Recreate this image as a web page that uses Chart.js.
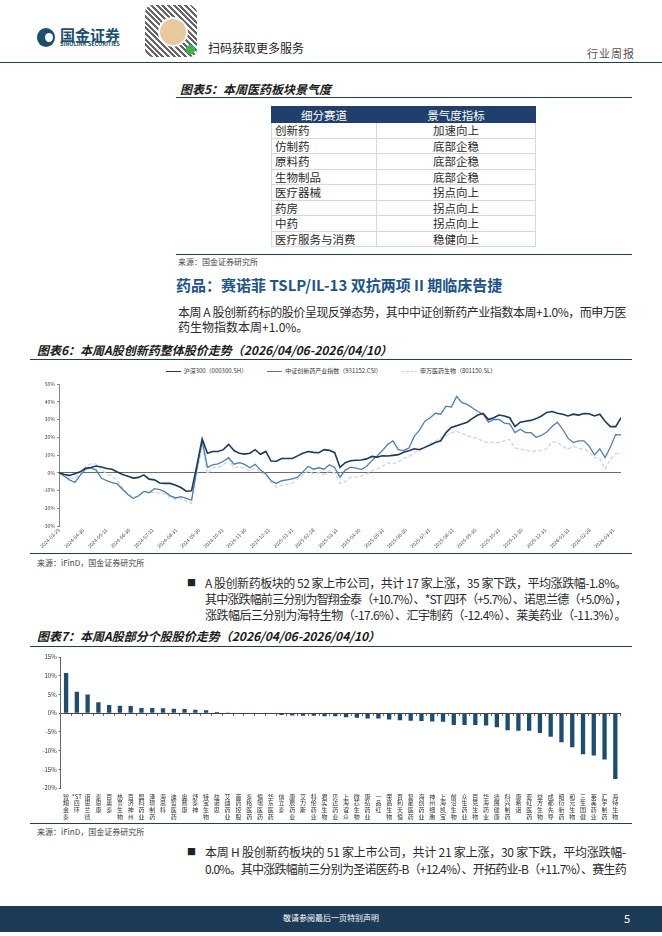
<!DOCTYPE html>
<html>
<head>
<meta charset="utf-8">
<script src="https://cdn.jsdelivr.net/npm/chart.js@4.4.1/dist/chart.umd.min.js"></script>
<style>
  body { margin: 0; width: 662px; height: 936px; position: relative; overflow: hidden; background: #fff;
         font-family: "Noto Sans CJK SC", "Noto Sans", sans-serif; color: #222; }
  .a { position: absolute; white-space: nowrap; }
  .rule { position: absolute; height: 0; border-top: 1.4px solid #1d3f5c; }
  .cap { font-size: 12px; font-weight: bold; font-style: italic; color: #1a1a1a; line-height: 14px; }
  .src { font-size: 8px; color: #444; line-height: 10px; }
  .ln { position: absolute; font-size: 12px; line-height: 16px; white-space: nowrap; text-align: justify; text-align-last: justify; color: #2a2a2a; }
  .bul { position: absolute; font-size: 9px; line-height: 16px; color: #222; }
  table { border-collapse: collapse; font-size: 11.5px; color: #2a2a2a; }
  td, th { border: 1px solid #d3d8de; padding: 0; height: 14.5px; line-height: 14px; }
  th { background: #213f6c; color: #fff; font-weight: normal; border-color: #213f6c; }
  #legend6 { position: absolute; left: 30px; top: 366px; width: 602px; display: flex; justify-content: center; gap: 20px; font-size: 6px; line-height: 10px; color: #333; }
  #legend6 span.it { display: flex; align-items: center; gap: 3px; }
  #legend6 i { display: inline-block; width: 15px; height: 0; }
</style>
</head>
<body>

<!-- header -->
<div class="a" style="left:37px;top:28px;width:18px;height:19px;border-radius:50%;background:#1a4f6e"></div>
<div class="a" style="left:45px;top:33px;width:8px;height:9px;border-radius:50%;background:#fff"></div>
<div class="a" style="left:60px;top:26px;font-size:15px;font-weight:bold;color:#1a4f6e;line-height:17px">国金证券</div>
<div class="a" style="left:60px;top:41px;font-size:5.5px;font-weight:bold;color:#1a4f6e;line-height:6px">SINOLINK SECURITIES</div>
<div class="a" style="left:145px;top:5px;width:52px;height:52px;border-radius:8px;
  background:repeating-linear-gradient(45deg,#333 0 2px,#fff 2px 4px),repeating-linear-gradient(-45deg,#555 0 1px,#fff 1px 3px);opacity:.75"></div>
<div class="a" style="left:158px;top:17px;width:26px;height:26px;border-radius:50%;background:#e8c9a0;border:2px solid #fff"></div>
<div class="a" style="left:186px;top:45px;width:9px;height:9px;border-radius:50%;background:#3bb54a"></div>
<div class="a" style="left:208px;top:40px;font-size:12px;color:#222;line-height:16px">扫码获取更多服务</div>
<div class="a" style="left:587px;top:46px;font-size:11px;color:#555;letter-spacing:1px;line-height:14px">行业周报</div>
<div class="rule" style="left:0;top:62px;width:662px"></div>

<!-- figure 5 -->
<div class="a cap" style="left:180px;top:82px">图表5：本周医药板块景气度</div>
<div class="rule" style="left:176px;top:97px;width:456px"></div>
<div class="a" style="left:271px;top:106px">
  <table id="tbl5" style="width:265px"></table>
</div>
<div class="rule" style="left:176px;top:254px;width:456px"></div>
<div class="a src" style="left:178px;top:257px">来源：国金证券研究所</div>

<div class="a" style="left:176px;top:275px;font-size:15px;font-weight:bold;color:#1d5489;line-height:19px">药品：赛诺菲 TSLP/IL-13 双抗两项 II 期临床告捷</div>
<div class="ln" style="left:178px;top:304px;width:448px">本周 A 股创新药标的股价呈现反弹态势，其中中证创新药产业指数本周+1.0%，而申万医</div>
<div class="a" style="left:178px;top:319px;font-size:12px;line-height:16px;color:#2a2a2a">药生物指数本周+1.0%。</div>

<!-- figure 6 -->
<div class="a cap" style="left:37px;top:343px">图表6：本周A股创新药整体股价走势（2026/04/06-2026/04/10）</div>
<div class="rule" style="left:30px;top:359px;width:602px"></div>
<div id="legend6"></div>
<canvas id="c6" class="a" style="left:30px;top:362px" width="602" height="191"></canvas>
<div class="rule" style="left:30px;top:553px;width:602px"></div>
<div class="a src" style="left:37px;top:558px">来源：iFinD，国金证券研究所</div>

<div class="bul" style="left:187px;top:575px">■</div>
<div class="ln" style="left:205px;top:575px;width:421px">A 股创新药板块的 52 家上市公司，共计 17 家上涨，35 家下跌，平均涨跌幅-1.8%。</div>
<div class="ln" style="left:205px;top:591px;width:421px">其中涨跌幅前三分别为智翔金泰（+10.7%）、*ST 四环（+5.7%）、诺思兰德（+5.0%），</div>
<div class="ln" style="left:205px;top:607px;width:421px">涨跌幅后三分别为海特生物（-17.6%）、汇宇制药（-12.4%）、莱美药业（-11.3%）。</div>

<!-- figure 7 -->
<div class="a cap" style="left:37px;top:629px">图表7：本周A股部分个股股价走势（2026/04/06-2026/04/10）</div>
<div class="rule" style="left:30px;top:646px;width:602px"></div>
<canvas id="c7" class="a" style="left:30px;top:648px" width="602" height="174"></canvas>
<div class="rule" style="left:30px;top:823px;width:602px"></div>
<div class="a src" style="left:37px;top:827px">来源：iFinD，国金证券研究所</div>

<div class="bul" style="left:187px;top:844px">■</div>
<div class="ln" style="left:205px;top:844px;width:421px">本周 H 股创新药板块的 51 家上市公司，共计 21 家上涨，30 家下跌，平均涨跌幅-</div>
<div class="ln" style="left:205px;top:861px;width:421px">0.0%。其中涨跌幅前三分别为圣诺医药-B（+12.4%）、开拓药业-B（+11.7%）、赛生药</div>

<!-- footer -->
<div class="a" style="left:0;top:906px;width:662px;height:26px;background:#1c3b57"></div>
<div class="a" style="left:0;top:912px;width:662px;text-align:center;font-size:8px;color:#fff;line-height:12px">敬请参阅最后一页特别声明</div>
<div class="a" style="left:624px;top:911px;font-size:11px;color:#fff;line-height:14px">5</div>

<script>
// ---- figure 5 table ----
const sectors = ['创新药', '仿制药', '原料药', '生物制品', '医疗器械', '药房', '中药', '医疗服务与消费'];
const sentiment = ['加速向上', '底部企稳', '底部企稳', '底部企稳', '拐点向上', '拐点向上', '拐点向上', '稳健向上'];

// ---- figure 6: weekly samples from 2024-03-29, cumulative change % ----
const startDate = '2024-03-29';
const seriesNames = ['沪深300（000300.SH）', '中证创新药产业指数（931152.CSI）', '申万医药生物（801150.SL）'];
const hs300 = [0, -1, -1.5, -0.5, 0.5, 2.5, 3, 3.8, 3.2, 2.4,
  2, 0.4, -1, -2, -3, -2.6, -1.2, -3.6, -4, -5.8,
  -6, -6, -7, -8.3, -10.4, -10.2, 4, 19, 11, 12,
  12, 13, 16, 12.5, 11, 10.5, 11, 13, 10.4, 12,
  6.6, 6.5, 8, 8, 8, 9.5, 11, 12, 11.5, 11.3,
  13, 12.6, 11.3, 3, 5.7, 6.8, 7, 7.2, 7.8, 9.2,
  8.8, 9.6, 9.4, 9.8, 10.2, 11.5, 12.4, 13.5, 13, 14.3,
  15.6, 17, 18, 22.6, 25.5, 26.5, 27.5, 28.5, 30.6, 32.5,
  33.4, 30, 31, 32.5, 32, 31, 26, 28.5, 29, 29.5,
  30.5, 32, 34, 34.5, 33.5, 33, 32, 33, 32.5, 33.4,
  33.2, 32, 33, 29, 26, 26, 31];
const innovDrug = [0, -2, -4, -5.5, -1.5, 2, 2.7, 1.5, -3, -4.5,
  -5.5, -6.3, -9.4, -12.3, -14.5, -13, -10.5, -11.3, -9, -9.5,
  -10.8, -13, -14.2, -13.5, -14.5, -15.5, 2, 18, 3, 4.5,
  5, 6.5, 8.5, 4.8, 5.7, 4.7, 2.8, 4.7, 1.5, -0.5,
  -4.5, -6, -4.5, -4, -3.5, -2.5, 0.5, 3.5, 2, 2.8,
  2, 4.5, 2.8, -2.5, 1.5, 3.2, 2.6, 1.9, 3.5, 6.8,
  9.5, 12.5, 16, 18, 13, 12.5, 14, 20.5, 24, 29,
  31, 33.5, 33, 37.5, 37, 43, 39.5, 38.5, 36.5, 34.5,
  33, 28.5, 30, 30, 28, 27.5, 22.6, 24.5, 22.6, 22.6,
  20, 21, 23, 26, 28.5, 24.5, 19.5, 17, 18, 18,
  15, 10, 13.5, 8.5, 14.5, 21.5, 21.3];
const swPharma = [0, -1, -2.8, -3.3, -0.5, 3.5, 5, 5, 2, -0.8,
  -1.8, -4.5, -8.5, -12, -13.8, -13.2, -10.5, -10.8, -11.3, -11.3,
  -12, -14, -15, -14.5, -16, -17.3, -1, 15, -0.5, 3,
  3, 4.5, 7.5, 2.8, 3.2, 2.5, 1, 2.5, 0, -1.5,
  -5.5, -8, -7, -6.5, -6, -3.5, -1, 1, -0.6, 0,
  -1, 1, 0, -6, -5, -2.5, -2.5, -1.8, -0.8, 1,
  2.3, 3.7, 5.5, 5, 6.2, 8, 9.2, 11, 13.5, 14.5,
  16.3, 18, 19.7, 21, 22.5, 23.3, 22, 21, 19.8, 19.5,
  17.5, 17, 17.3, 17, 18, 18.8, 14, 13.2, 13, 12,
  12.3, 12.5, 13.5, 17.5, 17, 15, 13.2, 15, 13.8, 13.2,
  12, 8.5, 8.2, 2, 7.5, 10.8, 11];
const tickLabels = ['2024-03-29', '2024-04-30', '2024-05-31', '2024-06-30', '2024-07-31', '2024-08-31',
  '2024-09-30', '2024-10-31', '2024-11-30', '2024-12-31', '2025-01-31', '2025-02-28', '2025-03-31',
  '2025-04-30', '2025-05-31', '2025-06-30', '2025-07-31', '2025-08-31', '2025-09-30', '2025-10-31',
  '2025-11-30', '2025-12-31', '2026-01-31', '2026-02-28', '2026-03-31'];

// ---- figure 7: weekly change % per stock ----
const stockNames = ['智翔金泰', '*ST四环', '诺思兰德', '泰恩康', '百奥泰', '热景生物', '百济神州', '盟科药业', '泽璟制药', '海思科',
  '迪哲医药', '奥赛康', '舒泰神', '特宝生物', '益诺思', '艾迪药业', '首药控股', '泰格医药', '恒瑞医药', '华东医药',
  '信立泰', '康辰药业', '艾力斯', '科伦药业', '君实生物', '贝达药业', '上海谊众', '微芯生物', '康弘药业', '一品红',
  '荣昌生物', '百利天恒', '复星医药', '海创药业', '神州细胞', '上海凯宝', '前沿生物', '众生药业', '百克生物', '华海药业',
  '德展健康', '科兴制药', '康希诺', '亚虹医药', '益方生物', '成都先导', '昭衍新药', '和元生物', '三生国健', '莱美药业',
  '汇宇制药', '海特生物'];
const stockChange = [10.7, 5.7, 5.0, 2.9, 2.2, 2.0, 1.9, 1.4, 1.4, 1.3,
  1.2, 1.1, 0.9, 0.8, 0.3, 0.2, 0.1, -0.02, -0.05, -0.2,
  -0.5, -0.6, -0.7, -0.7, -0.8, -0.8, -1.1, -1.2, -1.4, -1.4,
  -1.7, -1.9, -2.0, -2.1, -2.2, -2.3, -3.2, -3.2, -3.2, -3.3,
  -3.8, -4.6, -4.7, -4.7, -5.3, -6.3, -7.8, -9.1, -11.0, -11.3,
  -12.4, -17.6];

// table
const tbl = document.getElementById('tbl5');
let html = '<tr><th style="width:104px;height:15px">细分赛道</th><th>景气度指标</th></tr>';
sectors.forEach((s, i) => {
  html += '<tr><td style="padding-left:3px">' + s + '</td><td style="text-align:center">' + sentiment[i] + '</td></tr>';
});
tbl.innerHTML = html;

// squeeze justified lines that are too long
for (const el of document.querySelectorAll('.ln')) {
  const over = el.scrollWidth - el.clientWidth;
  if (over > 0) el.style.letterSpacing = (-over / el.textContent.length) + 'px';
}

Chart.defaults.font.family = '"Noto Sans CJK SC", "Noto Sans", sans-serif';
Chart.defaults.color = '#333';

const dayOf = s => (Date.parse(s) - Date.parse(startDate)) / 864e5;
const toPoints = arr => arr.map((v, i) => ({ x: i * 7, y: v }));

const lineColors = ['#1b3a5c', '#4d7fb5', '#c9d7e8'];
const lineWidths = [1.6, 1.3, 1.3];
const lineDash = [[], [], [4, 2]];

const chart6 = new Chart(document.getElementById('c6'), {
  type: 'line',
  data: {
    datasets: [hs300, innovDrug, swPharma].map((arr, k) => ({
      label: seriesNames[k],
      data: toPoints(arr),
      borderColor: lineColors[k],
      borderWidth: lineWidths[k],
      borderDash: lineDash[k],
      pointRadius: 0,
      tension: 0,
      fill: false
    }))
  },
  options: {
    responsive: false,
    animation: false,
    layout: { padding: { top: 22, right: 11, left: 0, bottom: 0 } },
    plugins: { legend: { display: false }, tooltip: { enabled: false } },
    scales: {
      x: {
        type: 'linear',
        min: 0,
        max: (hs300.length - 1) * 7,
        afterBuildTicks: scale => { scale.ticks = tickLabels.map(d => ({ value: dayOf(d) })); },
        afterFit: scale => { scale.height = 27; },
        ticks: {
          autoSkip: false,
          minRotation: 45,
          maxRotation: 45,
          padding: 1,
          font: { size: 5 },
          color: '#444',
          callback: (v, i) => tickLabels[i]
        },
        grid: { display: false, drawTicks: false },
        border: { display: false }
      },
      y: {
        min: -30,
        max: 50,
        afterFit: scale => { scale.width = 29; },
        ticks: { stepSize: 10, font: { size: 5 }, color: '#444', padding: 2, callback: v => v + '%' },
        grid: {
          color: c => (c.tick && c.tick.value === 0 ? '#6b6b6b' : 'rgba(0,0,0,0)'),
          tickColor: '#888',
          tickLength: 2,
          lineWidth: 1
        },
        border: { display: true, color: '#888' }
      }
    }
  }
});

// html legend built from the chart's datasets
const lg = document.getElementById('legend6');
chart6.data.datasets.forEach(ds => {
  const it = document.createElement('span');
  it.className = 'it';
  const mark = document.createElement('i');
  mark.style.borderTop = ds.borderWidth + 'px ' + (ds.borderDash.length ? 'dashed ' : 'solid ') + ds.borderColor;
  it.appendChild(mark);
  it.appendChild(document.createTextNode(ds.label));
  lg.appendChild(it);
});

// figure 7
const stockLabels = stockNames.map(n => n.startsWith('*ST') ? ['*ST', ...n.slice(3)] : [...n]);

new Chart(document.getElementById('c7'), {
  type: 'bar',
  data: {
    labels: stockLabels,
    datasets: [{
      data: stockChange,
      backgroundColor: '#1c4e74',
      barPercentage: 0.4,
      categoryPercentage: 1,
      xAxisID: 'x'
    }]
  },
  options: {
    responsive: false,
    animation: false,
    layout: { padding: { top: 9, right: 11.3, left: 0, bottom: 0 } },
    plugins: { legend: { display: false }, tooltip: { enabled: false } },
    scales: {
      x: {
        position: 'bottom',
        afterFit: scale => { scale.height = 34; },
        ticks: { autoSkip: false, maxRotation: 0, minRotation: 0, padding: 5,
                 font: { size: 6, lineHeight: 1.12 }, color: '#333' },
        grid: { display: false, drawTicks: false },
        border: { display: false }
      },
      x2: {
        position: { y: 0 },
        offset: true,
        ticks: { display: false },
        grid: { drawOnChartArea: false, drawTicks: true, tickLength: 2, color: '#c0504d', offset: true },
        border: { display: true, color: '#444', width: 1 }
      },
      y: {
        min: -20,
        max: 15,
        afterFit: scale => { scale.width = 30.7; },
        ticks: { stepSize: 5, font: { size: 6 }, color: '#333', padding: 2, callback: v => v + '%' },
        grid: { drawOnChartArea: false, drawTicks: true, tickLength: 2, color: '#666' },
        border: { display: true, color: '#666' }
      }
    }
  }
});
</script>
</body>
</html>
